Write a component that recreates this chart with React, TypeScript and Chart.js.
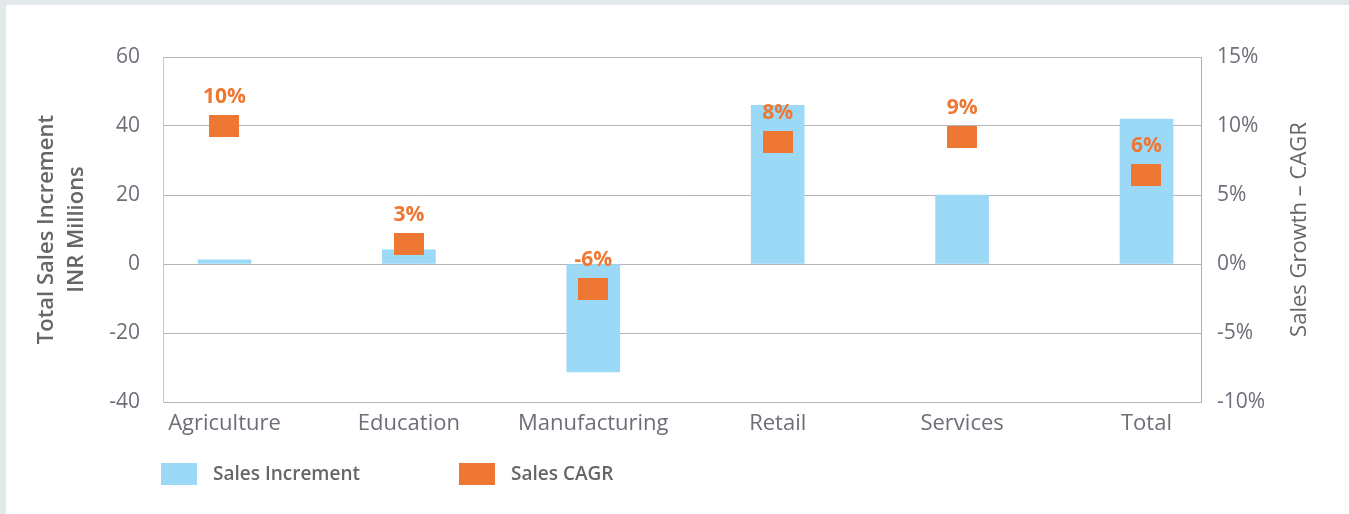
import React, { useEffect, useRef } from 'react';
import { Chart, registerables } from 'chart.js';

Chart.register(...registerables);

const categories = ['Agriculture', 'Education', 'Manufacturing', 'Retail', 'Services', 'Total'];
const salesIncrement = [1.2, 4.1, -31.3, 46, 20, 42];
const salesCagr = [10, 1.45, -1.8, 8.85, 9.2, 6.45];
const cagrLabels = ['10%', '3%', '-6%', '8%', '9%', '6%'];
const leftTicks = [-40, -20, 0, 20, 40, 60];
const rightTicks = [-10, -5, 0, 5, 10, 15];

const BLUE = '#9bd9f6';
const ORANGE = '#ed7733';
const TICK_COLOR = '#6c6e78';
const TITLE_COLOR = '#666666';
const FONT = "'Open Sans', sans-serif";

function makeMarker(): HTMLCanvasElement {
  const c = document.createElement('canvas');
  c.width = 30;
  c.height = 22;
  const g = c.getContext('2d')!;
  g.fillStyle = ORANGE;
  g.fillRect(0, 0, 30, 22);
  return c;
}

const overlayPlugin = {
  id: 'overlay',
  afterDraw(chart: any) {
    const ctx = chart.ctx as CanvasRenderingContext2D;
    const area = chart.chartArea;
    const meta = chart.getDatasetMeta(1);
    // points above gridlines
    meta.data.forEach((el: any) => el.draw(ctx, area));
    ctx.save();
    ctx.font = `bold 21px ${FONT}`;
    ctx.fillStyle = ORANGE;
    ctx.textAlign = 'center';
    ctx.textBaseline = 'alphabetic';
    meta.data.forEach((el: any, i: number) => {
      ctx.fillText(cagrLabels[i], el.x, el.y - 23);
    });
    ctx.restore();

    // right axis title (reads bottom-to-top)
    ctx.save();
    ctx.translate(area.right + 99, (area.top + area.bottom) / 2);
    ctx.rotate(-Math.PI / 2);
    ctx.font = `22px ${FONT}`;
    ctx.fillStyle = TITLE_COLOR;
    ctx.textAlign = 'center';
    ctx.textBaseline = 'middle';
    ctx.fillText('Sales Growth – CAGR', 0, 0);
    ctx.restore();

    // legend
    ctx.save();
    ctx.font = `600 19px ${FONT}`;
    ctx.textAlign = 'left';
    ctx.textBaseline = 'middle';
    let x = area.left - 2;
    const y = area.bottom + 61;
    chart.data.datasets.forEach((ds: any) => {
      ctx.fillStyle = ds.legendColor;
      ctx.fillRect(x, y, 36, 22);
      ctx.fillStyle = TITLE_COLOR;
      ctx.fillText(ds.label, x + 52, y + 12);
      x += 52 + ctx.measureText(ds.label).width + 99;
    });
    ctx.restore();
  },
};

export default function App() {
  const ref = useRef<HTMLCanvasElement | null>(null);

  useEffect(() => {
    document.body.style.margin = '0';
    if (!ref.current) return;
    const marker = makeMarker();
    const chart = new Chart(ref.current, {
      type: 'bar',
      data: {
        datasets: [
          {
            type: 'bar',
            label: 'Sales Increment',
            data: categories.map((_, i) => ({ x: i, y: salesIncrement[i] })),
            backgroundColor: BLUE,
            borderWidth: 0,
            barThickness: 53,
            yAxisID: 'y',
            legendColor: BLUE,
          } as any,
          {
            type: 'line',
            label: 'Sales CAGR',
            data: categories.map((_, i) => ({ x: i, y: salesCagr[i] })),
            showLine: false,
            pointStyle: marker,
            pointRadius: 11,
            pointHoverRadius: 11,
            yAxisID: 'y2',
            legendColor: ORANGE,
          } as any,
        ],
      },
      options: {
        animation: false,
        responsive: false,
        maintainAspectRatio: false,
        layout: { padding: { top: 52, left: 0, right: 0, bottom: 0 } },
        plugins: {
          legend: { display: false },
          tooltip: { enabled: false },
        },
        font: { family: FONT },
        scales: {
          x: {
            type: 'linear',
            min: -0.3335,
            max: 5.2956,
            offset: false,
            grid: { display: false, offset: false },
            border: { display: false },
            afterBuildTicks: (scale: any) => {
              scale.ticks = categories.map((_, i) => ({ value: i }));
            },
            afterFit: (scale: any) => {
              scale.height = 112;
            },
            ticks: {
              autoSkip: false,
              maxRotation: 0,
              padding: 1,
              color: TICK_COLOR,
              font: { family: FONT, size: 22 },
              callback: (v: any) => categories[v] ?? '',
            },
          },
          y: {
            position: 'left',
            min: -40,
            max: 60,
            z: 1,
            afterBuildTicks: (scale: any) => {
              scale.ticks = leftTicks.map((v) => ({ value: v }));
            },
            afterFit: (scale: any) => {
              scale.width = 157;
            },
            grid: { color: '#b4b4b4', lineWidth: 1, drawTicks: false },
            border: { display: true, color: '#c8c8c8', width: 1 },
            ticks: {
              padding: 23,
              color: TICK_COLOR,
              font: { family: FONT, size: 21 },
            },
            title: {
              display: true,
              text: ['Total Sales Increment', 'INR Millions'],
              color: TITLE_COLOR,
              font: { family: FONT, size: 22, weight: '600', lineHeight: 1.36 },
              padding: { top: 26, bottom: 0 },
            },
          },
          y2: {
            position: 'right',
            min: -10,
            max: 15,
            afterBuildTicks: (scale: any) => {
              scale.ticks = rightTicks.map((v) => ({ value: v }));
            },
            afterFit: (scale: any) => {
              scale.width = 148;
            },
            grid: { drawOnChartArea: false, drawTicks: false },
            border: { display: true, color: '#b0b0b0', width: 1 },
            ticks: {
              padding: 16,
              color: TICK_COLOR,
              font: { family: FONT, size: 21 },
              callback: (v: any) => `${v}%`,
            },
          },
        },
      } as any,
      plugins: [overlayPlugin],
    });
    return () => chart.destroy();
  }, []);

  return (
    <div style={{ position: 'relative', width: 1349, height: 514, background: '#e3e8eb', overflow: 'hidden' }}>
      <div style={{ position: 'absolute', left: 6, top: 5, width: 1343, height: 509, background: '#ffffff' }}>
        <canvas ref={ref} width={1343} height={509} style={{ display: 'block', width: 1343, height: 509 }} />
      </div>
    </div>
  );
}
